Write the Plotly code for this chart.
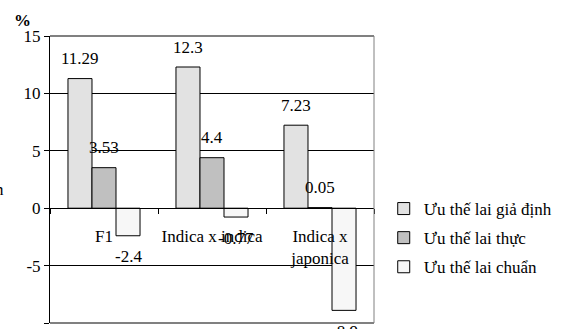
import plotly.graph_objects as go

# Hybrid vigour (%) for three crossing groups
categories = ["F1", "Indica x indica", "Indica x<br>japonica"]
gia_dinh = [11.29, 12.3, 7.23]   # Ưu thế lai giả định
thuc = [3.53, 4.4, 0.05]         # Ưu thế lai thực
chuan = [-2.4, -0.77, -8.9]      # Ưu thế lai chuẩn
series_names = ["Ưu thế lai giả định", "Ưu thế lai thực", "Ưu thế lai chuẩn"]
y_ticks = [-10, -5, 0, 5, 10, 15]
y_tick_text = ["-10", "-5", "0", "5", "10", "15"]

FONT = "Liberation Serif, Times New Roman, serif"
BARGAP = 0.333

styles = [
    dict(color="white", pattern=dict(shape="|", fgcolor="#8c8c8c", bgcolor="white", size=2, solidity=0.5)),
    dict(color="#c0c0c0"),
    dict(color="white", pattern=dict(shape="|", fgcolor="#e0e0e0", bgcolor="white", size=2, solidity=0.5)),
]

fig = go.Figure()
all_series = [gia_dinh, thuc, chuan]
for k, (name, vals, st) in enumerate(zip(series_names, all_series, styles)):
    fig.add_trace(go.Bar(
        x=categories, y=vals, name=name, legendgroup=f"g{k}",
        marker=dict(line=dict(color="black", width=1), **st),
    ))

# value labels above / below each bar end
annotations = []
width = (1 - BARGAP) / 3
for k, vals in enumerate(all_series):
    for i, v in enumerate(vals):
        annotations.append(dict(
            x=i + (k - 1) * width, y=v, xref="x", yref="y",
            text=str(v), showarrow=False,
            yshift=20 if v >= 0 else -21,
            font=dict(family=FONT, size=17, color="black"),
        ))

annotations.append(dict(
    x=(11 - 50) / 333, y=(323 - 20) / 287, xref="paper", yref="paper",
    xanchor="left", yanchor="middle",
    text="<b>%</b>", showarrow=False,
    font=dict(family=FONT, size=17, color="black"),
))
annotations.append(dict(
    x=-45 / 333, y=(323 - 189) / 287, xref="paper", yref="paper",
    xanchor="right", yanchor="middle",
    text="n", showarrow=False,
    font=dict(family=FONT, size=17, color="black"),
))

# plot frame (top, bottom, right)
shapes = [
    dict(type="line", xref="paper", yref="paper", x0=0, x1=1, y0=1, y1=1, line=dict(color="#808080", width=2)),
    dict(type="line", xref="paper", yref="paper", x0=0, x1=1, y0=0, y1=0, line=dict(color="#808080", width=2)),
    dict(type="line", xref="paper", yref="paper", x0=1, x1=1, y0=0, y1=1, line=dict(color="#808080", width=1)),
]

fig.update_layout(
    width=563, height=329,
    margin=dict(l=50, r=180, t=36, b=6),
    paper_bgcolor="white", plot_bgcolor="white",
    barmode="group", bargap=BARGAP, bargroupgap=0,
    font=dict(family=FONT, size=17, color="black"),
    showlegend=True,
    legend=dict(x=1.03, y=(323 - 238) / 287, xanchor="left", yanchor="middle",
                bgcolor="rgba(0,0,0,0)", font=dict(family=FONT, size=17),
                itemwidth=30, traceorder="grouped", tracegroupgap=4),
    annotations=annotations,
    shapes=shapes,
    xaxis=dict(
        type="category", anchor="free", position=0.4,
        showline=True, linecolor="black", linewidth=1,
        ticks="outside", tickson="boundaries", ticklen=5, tickcolor="black",
        ticklabelstandoff=12, tickangle=0, showgrid=False,
        tickfont=dict(family=FONT, size=17),
    ),
    yaxis=dict(
        range=[-10, 15], tickvals=y_ticks, ticktext=y_tick_text,
        showline=True, linecolor="black", linewidth=1,
        ticks="outside", ticklen=5, tickcolor="black",
        showgrid=True, gridcolor="black", gridwidth=1,
        zeroline=True, zerolinecolor="black", zerolinewidth=1,
        tickfont=dict(family=FONT, size=17),
    ),
)

fig.write_html("out.html")
